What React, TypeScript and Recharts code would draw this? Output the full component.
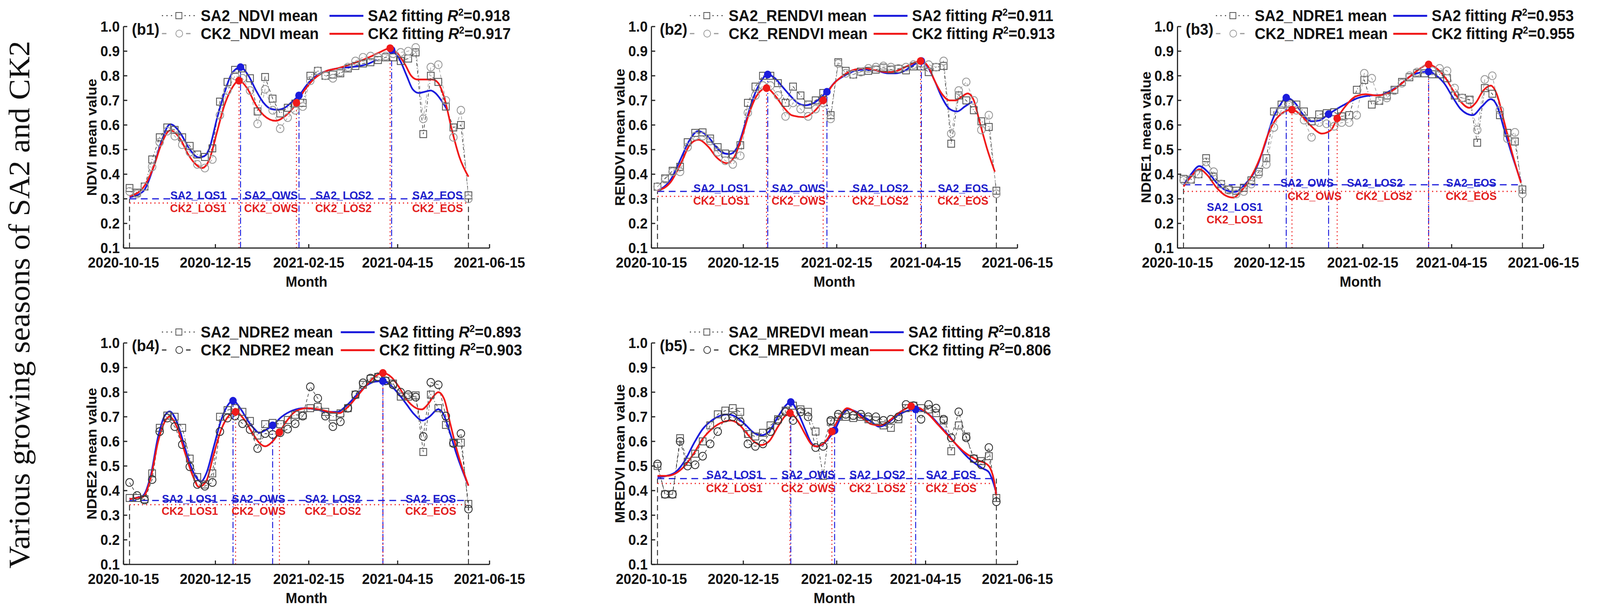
import React from 'react';
import { ComposedChart, Line, Scatter, XAxis, YAxis, ReferenceLine } from 'recharts';

const FONT = 'Arial, "Liberation Sans", Helvetica, sans-serif';
const BLUE = '#1c1cdc';
const RED = '#f01a1a';
const BLUE_TXT = '#2020cc';
const RED_TXT = '#e32020';
const PAGE_W = 4249;
const PAGE_H = 1577;

// x axis is "days since 2020-10-15"
const DAY_TICKS = [0, 61, 123, 182, 243];
const DATE_LABELS = ['2020-10-15', '2020-12-15', '2021-02-15', '2021-04-15', '2021-06-15'];
const Y_TICKS = [0.1, 0.2, 0.3, 0.4, 0.5, 0.6, 0.7, 0.8, 0.9, 1.0];
const OBS_DAYS = [4, 9, 14, 19, 24, 29, 34, 39, 44, 49, 54, 59, 64, 69, 74, 79, 84, 89, 94, 99, 104, 109, 114, 119,
  124, 129, 134, 139, 144, 149, 154, 159, 164, 169, 174, 179, 184, 189, 194, 199, 204, 209, 214, 219, 224, 229];
const SEASONS = ['LOS1', 'OWS', 'LOS2', 'EOS'];

// ---- b1 NDVI
const b1Sa2Means = [.344, .325, .35, .46, .55, .59, .58, .55, .515, .48, .47, .505, .695, .775, .824, .83, .79, .655, .795, .707, .647, .67, .687, .69,
  .80, .82, .80, .805, .81, .83, .84, .85, .855, .864, .875, .875, .86, .87, .895, .563, .80, .775, .675, .59, .60, .314];
const b1Ck2Means = [.33, .32, .35, .43, .53, .575, .555, .52, .49, .44, .425, .46, .64, .74, .80, .79, .74, .605, .745, .66, .585, .63, .66, .675,
  .78, .82, .80, .79, .815, .835, .86, .875, .88, .875, .88, .89, .895, .90, .915, .625, .835, .845, .70, .55, .66, .30];
const b1Sa2Fit = [[4, .306], [13, .33], [20, .43], [25, .53], [31, .603], [38, .565], [43, .51], [50, .468], [54, .475], [57, .505], [62, .625],
  [67, .73], [72, .81], [77.7, .835], [83, .80], [88, .74], [93, .69], [98, .665], [102, .662], [107, .67], [112, .695], [116.5, .72],
  [122, .765], [128, .80], [135, .82], [142, .83], [150, .835], [157, .84], [163, .85], [168, .865], [172, null], [178, .905], [183, .87],
  [188, .80], [192, .745], [196, .73], [200, .735], [204, .74], [207, .73], [211, .70], [215, .66]];
const b1Ck2Fit = [[4, .31], [13, .345], [20, .43], [25, .52], [31, .578], [38, .54], [43, .48], [48, .44], [52, .425], [57, .46], [62, .57],
  [67, .68], [72, .75], [76.7, .78], [82, .75], [88, .68], [93, .64], [101, .617], [107, .635], [112, .665], [114.8, .69], [120, .74],
  [127, .79], [135, .82], [142, .83], [150, .845], [157, .86], [163, .875], [170, .895], [177, .912], [182, .89], [187, .845], [191, .80],
  [195, .785], [200, .785], [205, .785], [209, .77], [213, .71], [218, .58], [223, .47], [229, .39]];
const b1Sa2Keys = [[77.7, .835], [116.5, .72], [178, .905]];
const b1Ck2Keys = [[76.7, .78], [114.8, .69], [177, .912]];
const b1Sa2LabelAt = [[49.6, .314], [98, .314], [146, .314], [208.5, .314]];
const b1Ck2LabelAt = [[49.6, .262], [98, .262], [146, .262], [208.5, .262]];

// ---- b2 RENDVI
const b2Sa2Means = [.349, .383, .414, .43, .53, .568, .57, .545, .51, .484, .48, .518, .69, .756, .80, .80, .77, .69, .756, .72, .683, .70, .73, .64,
  .855, .82, .805, .817, .82, .825, .833, .825, .828, .822, .838, .838, .815, .835, .84, .524, .72, .70, .66, .615, .592, .333];
const b2Ck2Means = [.35, .38, .41, .41, .51, .555, .555, .535, .49, .455, .44, .475, .65, .72, .76, .76, .72, .635, .69, .665, .635, .665, .69, .625,
  .85, .81, .805, .815, .83, .835, .84, .835, .83, .835, .845, .85, .845, .835, .86, .565, .74, .775, .70, .58, .64, .32];
const b2Sa2Fit = [[4, .333], [13, .38], [20, .47], [25, .535], [31, .575], [38, .55], [43, .51], [48, .485], [52, .482], [57, .51], [62, .60],
  [67, .70], [72, .77], [77.2, .805], [82, .79], [87, .755], [92, .72], [97, .69], [102, .68], [108, .69], [113, .715], [116.5, .735],
  [122, .775], [128, .80], [135, .82], [142, .825], [150, .82], [157, .81], [162, .81], [168, .82], [173, .84], [179.2, .86], [184, .83],
  [188, .78], [193, .71], [198, .665], [203, .655], [208, .675], [213, .695]];
const b2Ck2Fit = [[4, .333], [13, .37], [20, .45], [25, .515], [31, .54], [38, .51], [43, .47], [50, .445], [55, .47], [60, .55], [65, .65],
  [70, .72], [76.4, .75], [82, .72], [88, .67], [93, .64], [101, .632], [108, .655], [114, .70], [120, .76], [127, .80], [135, .825],
  [142, .83], [150, .82], [157, .815], [163, .82], [170, .84], [178.7, .86], [184, .835], [188, .78], [193, .725], [198, .70], [202, .70],
  [206, .715], [210, .728], [214, .70], [218, .61], [223, .50], [228, .41]];
const b2Sa2Keys = [[77.2, .805], [116.5, .735], [179.2, .86]];
const b2Ck2Keys = [[76.4, .75], [114, .70], [178.7, .86]];
const b2Sa2LabelAt = [[46.4, .343], [97.7, .343], [152, .343], [206.8, .343]];
const b2Ck2LabelAt = [[46.4, .292], [97.7, .292], [152, .292], [206.8, .292]];

// ---- b3 NDRE1
const b3Sa2Means = [.381, .378, .40, .465, .39, .36, .338, .333, .345, .375, .41, .465, .655, .683, .687, .683, .655, .615, .643, .648, .652, .635, .64, .743,
  .783, .683, .698, .72, .743, .775, .794, .81, .81, .806, .806, .79, .72, .71, .703, .528, .75, .727, .64, .568, .533, .338];
const b3Ck2Means = [.375, .38, .40, .45, .41, .36, .335, .32, .33, .36, .40, .44, .59, .66, .68, .66, .62, .55, .61, .605, .595, .61, .61, .64,
  .81, .79, .70, .71, .74, .77, .80, .815, .825, .82, .83, .82, .75, .71, .70, .58, .785, .80, .66, .545, .57, .32];
const b3Sa2Fit = [[4, .355], [9, .40], [14.5, .433], [20, .41], [26, .365], [32, .335], [38, .328], [45, .36], [52, .42], [58, .52], [63, .62],
  [68, .68], [72.2, .711], [78, .69], [83, .645], [89, .615], [94, .618], [100.3, .644], [110, .68], [120, .71], [128, .72], [135, .722],
  [140, .735], [147, .76], [155, .80], [161, .813], [166.7, .817], [172, .80], [177, .77], [183, .71], [188, .665], [196, .64], [202, .675],
  [208, .705], [212, .68], [217, .58], [222, .48], [228, .37]];
const b3Ck2Fit = [[4, .35], [9, .39], [14.5, .42], [20, .395], [26, .345], [32, .313], [37, .305], [42, .33], [48, .38], [55, .47], [60, .56],
  [65, .62], [70, .65], [76, .662], [82, .64], [88, .60], [96, .565], [102, .58], [106, .627], [112, .68], [118, .715], [125, .725],
  [132, .72], [138, .725], [145, .75], [152, .785], [159, .82], [166.7, .846], [172, .83], [178, .79], [183, .74], [188, .695], [193.7, .67],
  [198, .69], [203, .74], [208, .76], [212, .725], [217, .61], [222, .49], [228, .365]];
const b3Sa2Keys = [[72.2, .711], [100.3, .644], [166.7, .817]];
const b3Ck2Keys = [[76, .662], [106, .627], [166.7, .846]];
const b3Sa2LabelAt = [[38, .267], [86, .365], [131, .365], [195, .365]];
const b3Ck2LabelAt = [[38, .216], [91, .311], [137, .311], [195, .311]];

// ---- b4 NDRE2
const b4Sa2Means = [.37, .37, .365, .47, .655, .705, .70, .655, .53, .455, .425, .47, .70, .727, .735, .72, .683, .624, .67, .675, .67, .687, .708, .706,
  .735, .74, .72, .70, .714, .735, .79, .83, .854, .862, .846, .835, .782, .782, .787, .557, .79, .735, .667, .595, .595, .346];
const b4Ck2Means = [.433, .38, .362, .445, .64, .695, .66, .587, .497, .425, .418, .433, .64, .695, .703, .672, .648, .571, .632, .628, .635, .65, .672, .703,
  .822, .775, .703, .66, .68, .735, .79, .838, .857, .862, .846, .83, .80, .79, .78, .62, .84, .83, .703, .592, .632, .325];
const b4Sa2Fit = [[4, .365], [8, .37], [13, .38], [18, .46], [23, .62], [27, .70], [30.6, .722], [36, .67], [41, .57], [46, .48], [51.4, .437],
  [55, .47], [60, .58], [65, .69], [69, .745], [72.7, .765], [78, .73], [83, .68], [87, .65], [90, .635], [94, .645], [99, .665], [105, .70],
  [112, .725], [120, .735], [128, .73], [135, .72], [142, .72], [148, .745], [155, .79], [162, .83], [167, .843], [172, .845], [177, .83],
  [183, .79], [188, .75], [193, .71], [198.5, .685], [203, .70], [209, .73], [212, .715], [216, .65], [221, .55], [229, .42]];
const b4Ck2Fit = [[4, .365], [8, .37], [13, .375], [18, .45], [23, .60], [27, .675], [30.5, .70], [36, .65], [41, .55], [46, .46], [50, .415],
  [55, .44], [60, .55], [65, .65], [70, .705], [74.4, .72], [80, .69], [86, .63], [90, .595], [94, .58], [99, .60], [103.5, .637], [108, .68],
  [115, .725], [122, .735], [130, .73], [137, .72], [143, .715], [149, .74], [156, .79], [163, .84], [168, .868], [172.2, .878], [178, .86],
  [183, .82], [188, .77], [193, .74], [198, .73], [202, .75], [206, .785], [209, .80], [213, .77], [217, .67], [222, .55], [229, .42]];
const b4Sa2Keys = [[72.7, .765], [99, .665], [172.2, .845]];
const b4Ck2Keys = [[74.4, .72], [103.5, .637], [172.2, .878]];
const b4Sa2LabelAt = [[44, .367], [89.7, .367], [139, .367], [204, .367]];
const b4Ck2LabelAt = [[44, .318], [89.7, .318], [139, .318], [204, .318]];

// ---- b5 MREDVI
const b5Sa2Means = [.50, .385, .385, .613, .517, .55, .60, .665, .71, .725, .735, .72, .63, .62, .635, .665, .69, .725, .745, .73, .72, .64, .46, .68,
  .70, .70, .695, .70, .69, .685, .665, .655, .69, .735, .745, .735, .73, .715, .685, .56, .665, .62, .53, .52, .54, .37];
const b5Ck2Means = [.508, .385, .385, .60, .50, .505, .54, .59, .64, .695, .70, .68, .59, .58, .59, .64, .685, .72, .685, .72, .70, .575, .58, .685,
  .71, .71, .705, .71, .70, .70, .685, .69, .70, .75, .745, .69, .75, .735, .69, .615, .72, .615, .53, .505, .575, .355];
const b5Sa2Fit = [[4, .455], [10, .46], [16, .475], [22, .52], [28, .59], [34, .65], [40, .685], [46, .705], [51, .71], [56, .70], [62, .67],
  [68, .635], [73, .625], [78, .64], [84, .70], [89, .745], [92.5, .76], [97, .72], [102, .65], [106, .595], [109, .58], [113, .585],
  [118, .615], [121.6, .645], [126, .70], [131, .73], [136, .72], [141, .70], [146, .68], [151, .66], [156, .67], [162, .70], [168, .72],
  [175.4, .73], [180, .725], [186, .70], [192, .66], [198, .62], [204, .575], [210, .535], [215, .51], [220, .49], [224, .475], [226.5, .44], [229, .39]];
const b5Ck2Fit = [[4, .46], [10, .46], [16, .47], [22, .50], [28, .55], [34, .61], [40, .65], [46, .675], [52.6, .685], [58, .67], [63, .635],
  [68, .60], [72.7, .585], [78, .60], [84, .66], [89, .705], [92, .715], [97, .685], [102, .63], [106, .59], [109, .58], [114, .59],
  [119.8, .64], [125, .70], [130, .735], [135, .72], [141, .69], [146, .67], [151.6, .665], [157, .68], [163, .71], [168, .73], [172.4, .743],
  [178, .735], [184, .71], [190, .67], [196, .63], [202, .59], [208, .555], [213, .535], [218, .52], [222, .51], [225, .49], [227.5, .44], [229, .38]];
const b5Sa2Keys = [[92.5, .76], [121.6, .645], [175.4, .73]];
const b5Ck2Keys = [[92, .715], [119.8, .64], [172.4, .743]];
const b5Sa2LabelAt = [[55, .465], [104, .465], [150, .465], [199, .465]];
const b5Ck2LabelAt = [[55, .41], [104, .41], [150, .41], [199, .41]];

const PLOT_W = 972;
const PLOT_H = 567;
const ML = 150; // y-axis band
const MT = 40;
const MR = 110;
const XH = 130;

const toPts = (vals) => OBS_DAYS.map((x, i) => ({ x, y: vals[i] }));
const pairPts = (pairs) => pairs.map(([x, y]) => ({ x, y }));
const labelPts = (pairs, prefix) => pairs.map(([x, y], i) => ({ x, y, text: `${prefix}_${SEASONS[i]}` }));

const panels = [
  { id: 'b1', left: 328, top: 68, ylab: 'NDVI mean value', idx: 'NDVI', r2: ['0.918', '0.917'], fitX: 547, ckColor: '#9a9a9a',
    sa2: b1Sa2Means, ck2: b1Ck2Means, sa2Fit: b1Sa2Fit, ck2Fit: b1Ck2Fit, sa2Keys: b1Sa2Keys, ck2Keys: b1Ck2Keys,
    sa2Base: 0.30, ck2Base: 0.283, sa2Lab: b1Sa2LabelAt, ck2Lab: b1Ck2LabelAt },
  { id: 'b2', left: 1730, top: 68, ylab: 'RENDVI mean value', idx: 'RENDVI', r2: ['0.911', '0.913'], fitX: 590, ckColor: '#9a9a9a',
    sa2: b2Sa2Means, ck2: b2Ck2Means, sa2Fit: b2Sa2Fit, ck2Fit: b2Ck2Fit, sa2Keys: b2Sa2Keys, ck2Keys: b2Ck2Keys,
    sa2Base: 0.33, ck2Base: 0.31, sa2Lab: b2Sa2LabelAt, ck2Lab: b2Ck2LabelAt },
  { id: 'b3', left: 3127, top: 68, ylab: 'NDRE1 mean value', idx: 'NDRE1', r2: ['0.953', '0.955'], fitX: 573, ckColor: '#9a9a9a',
    sa2: b3Sa2Means, ck2: b3Ck2Means, sa2Fit: b3Sa2Fit, ck2Fit: b3Ck2Fit, sa2Keys: b3Sa2Keys, ck2Keys: b3Ck2Keys,
    sa2Base: 0.357, ck2Base: 0.33, sa2Lab: b3Sa2LabelAt, ck2Lab: b3Ck2LabelAt },
  { id: 'b4', left: 328, top: 878, ylab: 'NDRE2 mean value', idx: 'NDRE2', r2: ['0.893', '0.903'], fitX: 577, ckColor: '#333333',
    sa2: b4Sa2Means, ck2: b4Ck2Means, sa2Fit: b4Sa2Fit, ck2Fit: b4Ck2Fit, sa2Keys: b4Sa2Keys, ck2Keys: b4Ck2Keys,
    sa2Base: 0.36, ck2Base: 0.343, sa2Lab: b4Sa2LabelAt, ck2Lab: b4Ck2LabelAt },
  { id: 'b5', left: 1730, top: 878, ylab: 'MREDVI mean value', idx: 'MREDVI', r2: ['0.818', '0.806'], fitX: 580, ckColor: '#333333',
    sa2: b5Sa2Means, ck2: b5Ck2Means, sa2Fit: b5Sa2Fit, ck2Fit: b5Ck2Fit, sa2Keys: b5Sa2Keys, ck2Keys: b5Ck2Keys,
    sa2Base: 0.449, ck2Base: 0.429, sa2Lab: b5Sa2LabelAt, ck2Lab: b5Ck2LabelAt },
];

const squareDot = (color) => (props) => {
  const { cx, cy, index } = props;
  if (cx == null || cy == null) return <g key={`s${index}`} />;
  return <rect key={`s${index}`} x={cx - 9} y={cy - 9} width={18} height={18} fill="none" stroke={color} strokeWidth={2.2} strokeDasharray="none" />;
};
const circleDot = (color) => (props) => {
  const { cx, cy, index } = props;
  if (cx == null || cy == null) return <g key={`c${index}`} />;
  return <circle key={`c${index}`} cx={cx} cy={cy} r={10} fill="none" stroke={color} strokeWidth={2.2} strokeDasharray="none" />;
};
const filledDot = (color) => (props) => <circle cx={props.cx} cy={props.cy} r={10} fill={color} />;
const textShape = (color) => (props) => (
  <text x={props.cx} y={props.cy} fill={color} fontSize={29} fontWeight={700} fontFamily={FONT}
    textAnchor="middle" dominantBaseline="central">{props.payload.text}</text>
);

const txt = {
  position: 'absolute', fontFamily: FONT, fontWeight: 700, fontSize: 40, color: '#111',
  whiteSpace: 'nowrap', lineHeight: '48px', height: 48,
};

function Legend({ p }) {
  const r1 = MT - 28; // row centres, relative to the panel box
  const r2 = MT + 18;
  const sup = { fontSize: 25, verticalAlign: 'super', lineHeight: 0 };
  return (
    <>
      <div style={{ ...txt, left: ML + 22, top: MT + 7 - 24 }}>({p.id})</div>
      <svg style={{ position: 'absolute', left: ML + 100, top: r1 - 12 }} width={92} height={24}>
        <line x1={2} x2={90} y1={12} y2={12} stroke="#333" strokeWidth={2.5} strokeDasharray="3 9" />
        <rect x={39} y={4} width={16} height={16} fill="#fff" stroke="#555" strokeWidth={2} />
      </svg>
      <svg style={{ position: 'absolute', left: ML + 100, top: r2 - 12 }} width={92} height={24}>
        <line x1={2} x2={14} y1={12} y2={12} stroke={p.ckColor} strokeWidth={3} />
        <line x1={66} x2={78} y1={12} y2={12} stroke={p.ckColor} strokeWidth={3} />
        <circle cx={48} cy={12} r={9} fill="#fff" stroke={p.ckColor} strokeWidth={2} />
      </svg>
      <div style={{ ...txt, left: ML + 205, top: r1 - 24 }}>SA2_{p.idx} mean</div>
      <div style={{ ...txt, left: ML + 205, top: r2 - 24 }}>CK2_{p.idx} mean</div>
      <div style={{ position: 'absolute', left: ML + p.fitX, top: r1 - 2, width: 90, height: 5, background: BLUE }} />
      <div style={{ position: 'absolute', left: ML + p.fitX, top: r2 - 2, width: 90, height: 5, background: RED }} />
      <div style={{ ...txt, left: ML + p.fitX + 102, top: r1 - 24 }}>
        SA2 fitting <i>R</i><span style={sup}>2</span>={p.r2[0]}
      </div>
      <div style={{ ...txt, left: ML + p.fitX + 102, top: r2 - 24 }}>
        CK2 fitting <i>R</i><span style={sup}>2</span>={p.r2[1]}
      </div>
    </>
  );
}

function Panel({ p }) {
  const W = ML + PLOT_W + MR;
  const H = MT + PLOT_H + XH;
  const start = OBS_DAYS[0];
  const end = OBS_DAYS[OBS_DAYS.length - 1];
  const tick = { fill: '#111', fontSize: 37, fontWeight: 700, fontFamily: FONT };
  const axisText = { fontSize: 37, fontWeight: 700, fontFamily: FONT, fill: '#111' };
  return (
    <div style={{ position: 'absolute', left: p.left - ML, top: p.top - MT, width: W, height: H }}>
      <ComposedChart width={W} height={H} margin={{ top: MT, right: MR, bottom: 0, left: 0 }}>
        <XAxis type="number" dataKey="x" domain={[0, 243]} ticks={DAY_TICKS} interval={0} allowDataOverflow
          tickFormatter={(v) => DATE_LABELS[DAY_TICKS.indexOf(v)]} height={XH} tickSize={-10} tickMargin={34}
          stroke="#222" strokeWidth={3} tick={tick}
          label={{
            content: () => (
              <text x={ML + PLOT_W / 2} y={MT + PLOT_H + 86} textAnchor="middle" dominantBaseline="central" {...axisText}>Month</text>
            ),
          }} />
        <YAxis type="number" dataKey="y" domain={[0.1, 1.0]} ticks={Y_TICKS} interval={0} allowDataOverflow
          tickFormatter={(v) => v.toFixed(1)} width={ML} tickSize={-10} tickMargin={20}
          stroke="#222" strokeWidth={3} tick={tick}
          label={{
            content: () => {
              const cx = ML - 84;
              const cy = MT + PLOT_H / 2;
              return <text x={cx} y={cy} transform={`rotate(-90 ${cx} ${cy})`} textAnchor="middle" dominantBaseline="central"
                {...axisText}>{p.ylab}</text>;
            },
          }} />

        {/* season boundaries */}
        <ReferenceLine segment={[{ x: start, y: 0.1 }, { x: start, y: p.sa2Base }]} stroke="#333" strokeWidth={2.5} strokeDasharray="14 9" />
        <ReferenceLine segment={[{ x: end, y: 0.1 }, { x: end, y: p.sa2Base }]} stroke="#333" strokeWidth={2.5} strokeDasharray="14 9" />
        {p.sa2Keys.map(([x, y], i) => (
          <ReferenceLine key={`sv${i}`} segment={[{ x, y: 0.1 }, { x, y }]} stroke={BLUE} strokeWidth={2.5} strokeDasharray="16 6 3 6" />
        ))}
        {p.ck2Keys.map(([x, y], i) => (
          <ReferenceLine key={`cv${i}`} segment={[{ x, y: 0.1 }, { x, y }]} stroke={RED} strokeWidth={2.5} strokeDasharray="3 7" />
        ))}
        <ReferenceLine segment={[{ x: start, y: p.sa2Base }, { x: end, y: p.sa2Base }]} stroke={BLUE} strokeWidth={3} strokeDasharray="18 12" />
        <ReferenceLine segment={[{ x: start, y: p.ck2Base }, { x: end, y: p.ck2Base }]} stroke={RED} strokeWidth={3} strokeDasharray="3 8" />

        {/* observed means */}
        <Line data={toPts(p.sa2)} dataKey="y" type="linear" stroke="#333" strokeWidth={1.6} strokeDasharray="2 5 8 5"
          dot={squareDot('#555')} activeDot={false} isAnimationActive={false} />
        <Line data={toPts(p.ck2)} dataKey="y" type="linear" stroke={p.ckColor} strokeWidth={1.6} strokeDasharray="8 6"
          dot={circleDot(p.ckColor)} activeDot={false} isAnimationActive={false} />

        {/* fitted curves */}
        <Line data={pairPts(p.sa2Fit)} dataKey="y" type="monotone" stroke={BLUE} strokeWidth={4.5}
          dot={false} activeDot={false} isAnimationActive={false} />
        <Line data={pairPts(p.ck2Fit)} dataKey="y" type="monotone" stroke={RED} strokeWidth={4.5}
          dot={false} activeDot={false} isAnimationActive={false} />

        <Scatter data={pairPts(p.sa2Keys)} dataKey="y" shape={filledDot(BLUE)} isAnimationActive={false} />
        <Scatter data={pairPts(p.ck2Keys)} dataKey="y" shape={filledDot(RED)} isAnimationActive={false} />

        <Scatter data={labelPts(p.sa2Lab, 'SA2')} dataKey="y" shape={textShape(BLUE_TXT)} isAnimationActive={false} />
        <Scatter data={labelPts(p.ck2Lab, 'CK2')} dataKey="y" shape={textShape(RED_TXT)} isAnimationActive={false} />
      </ComposedChart>
      <Legend p={p} />
    </div>
  );
}

export default function App() {
  // fit the fixed 4249x1577 figure into whatever viewport the browser actually has
  const vw = typeof window !== 'undefined' ? document.documentElement.clientWidth || window.innerWidth : PAGE_W;
  const vh = typeof window !== 'undefined' ? document.documentElement.clientHeight || window.innerHeight : PAGE_H;
  const sx = vw / PAGE_W;
  const sy = vh / PAGE_H;
  return (
    <div style={{
      position: 'fixed', left: 0, top: 0, width: PAGE_W, height: PAGE_H, background: '#fff', overflow: 'hidden',
      transform: `scale(${sx}, ${sy})`, transformOrigin: '0 0',
    }}>
      <svg style={{ position: 'absolute', left: 0, top: 0 }} width={130} height={PAGE_H}>
        <text x={78} y={780} transform="rotate(-90 78 780)" textAnchor="middle" fontSize={80}
          fontFamily='"Liberation Serif", "DejaVu Serif", serif' fill="#111">
          Various growing seasons of SA2 and CK2
        </text>
      </svg>
      {panels.map((p) => <Panel key={p.id} p={p} />)}
    </div>
  );
}
